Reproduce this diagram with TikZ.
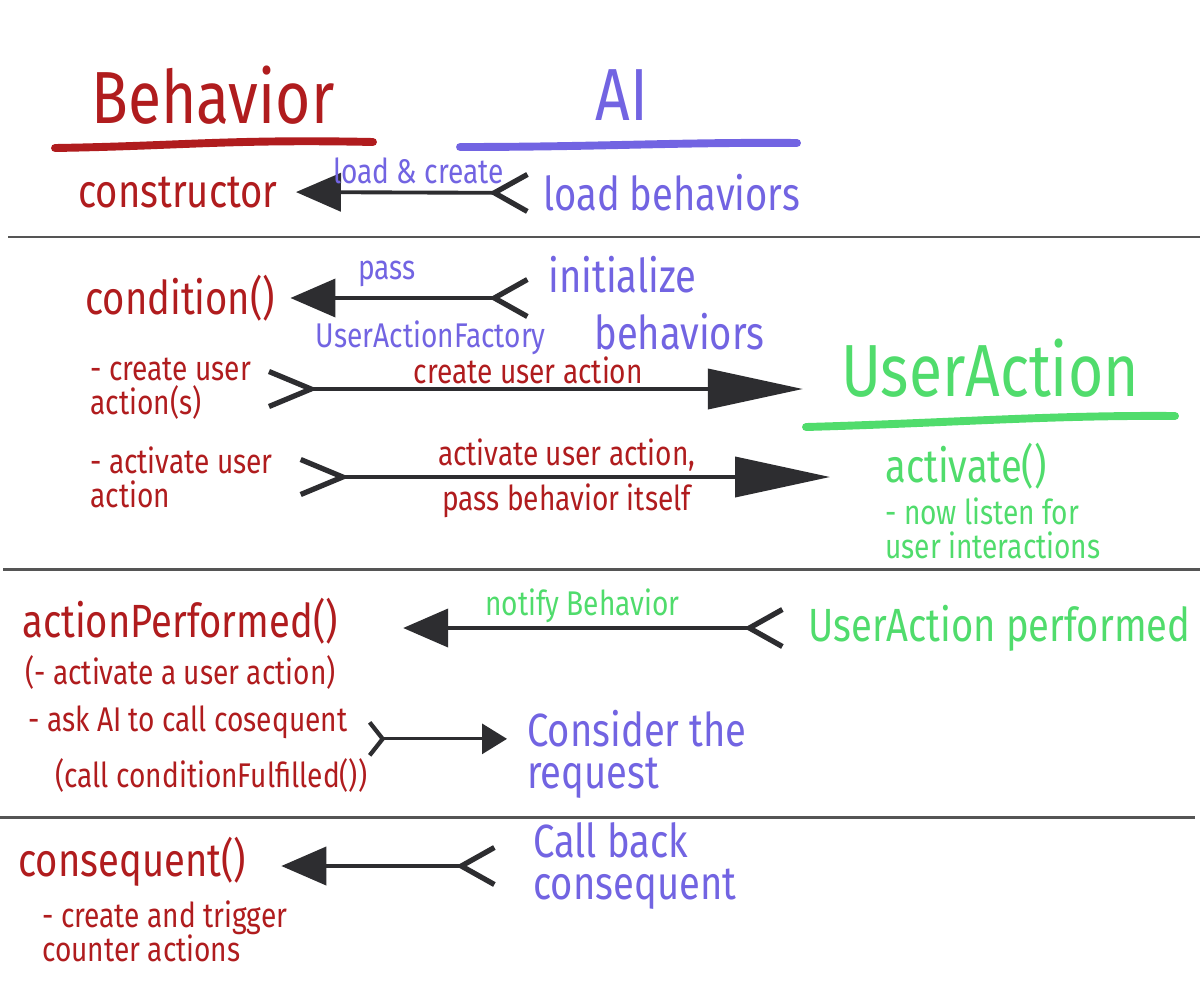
\documentclass[tikz,border=0pt]{standalone}
\usepackage{fontspec}
\setmainfont{Fira Sans}[FakeStretch=0.82]
\usetikzlibrary{arrows.meta}
\definecolor{behred}{RGB}{176,28,30}
\definecolor{aipurple}{RGB}{114,100,226}
\definecolor{uagreen}{RGB}{80,220,108}
\definecolor{ink}{RGB}{45,45,48}
\definecolor{rulegray}{RGB}{85,85,85}
\tikzset{
	title/.style={font=\fontsize{42}{42}\selectfont,inner sep=0pt},
	big/.style={font=\fontsize{26.5}{24}\selectfont,inner sep=0pt,align=left},
	small/.style={font=\fontsize{19.5}{19.5}\selectfont,inner sep=0pt,align=left},
	divider/.style={draw=rulegray,line width=1.7pt},
	stroke/.style={line width=4.5pt,line cap=round},
	flow/.style={draw=ink,line width=2.2pt,{Straight Barb[reversed,length=6.6mm,width=7.4mm,line width=3pt]}-{Triangle[length=9mm,width=7.6mm]}},
	longflow/.style={draw=ink,line width=2.2pt,{Straight Barb[reversed,length=8.4mm,width=7mm,line width=3pt]}-{Triangle[length=19mm,width=8mm]}},
	shortflow/.style={draw=ink,line width=1.8pt,{Straight Barb[reversed,length=2.6mm,width=6.6mm,line width=2.4pt]}-{Triangle[length=5mm,width=6mm]}}
}
\begin{document}
\begin{tikzpicture}[x=0.2mm,y=-0.2mm]
	\useasboundingbox[fill=white] (0,0) rectangle (1200,1000);
	% headings
	\node[title,text=behred] (behT) at (213,95) {Behavior};
	\node[title,text=aipurple] (aiT) at (622,95) {AI};
	\node[title,text=uagreen] (uaT) at (990,368) {UserAction};
	\draw[stroke,behred] (55,148) .. controls (180,146) and (230,139) .. (373,142);
	\draw[stroke,aipurple] (460,147) .. controls (600,147) and (680,142) .. (797,143);
	\draw[stroke,uagreen] (806,427) .. controls (950,423) and (1050,415) .. (1175,416);
	% dividers
	\draw[divider] (8,237) -- (1200,237);
	\draw[divider] (3,569) -- (1200,569);
	\draw[divider] (0,817) -- (1195,817);
	% loading
	\node[big,text=behred,anchor=west] (ctor) at (78,192) {constructor};
	\node[big,text=aipurple,anchor=west] (loadb) at (543,193) {load behaviors};
	\draw[flow,shorten <=2.6mm,shorten >=3.6mm] (loadb.west) -- (ctor.east)
		node[pos=0.47,above=4pt,small,text=aipurple] {load \& create};
	% initialisation
	\node[big,text=behred,anchor=west] (cond) at (85,298) {condition()};
	\node[big,text=aipurple,anchor=west] (init) at (548,275) {initialize};
	\node[big,text=aipurple,anchor=west] (behs) at (594,332) {behaviors};
	\draw[flow,shorten <=3.6mm,shorten >=3mm] (cond.east -| init.west) -- (cond.east)
		node[pos=0.59,above=5pt,small,text=aipurple] {pass}
		node[pos=0.43,below=12pt,small,text=aipurple] {UserActionFactory};
	\node[small,text=behred,anchor=west] (mkua) at (90,389) {- create user\\action(s)};
	\draw[longflow,shorten <=3mm,shorten >=7.6mm] (mkua.east) -- (mkua.east -| uaT.west)
		node[pos=0.47,above=2pt,small,text=behred] {create user action};
	\node[small,text=behred,anchor=west] (actua) at (90,477) {- activate user\\action};
	\node[big,text=uagreen,anchor=west] (act) at (885,466) {activate()};
	\node[small,text=uagreen,anchor=west] (listen) at (885,528) {- now listen for\\user interactions};
	\draw[longflow,shorten <=5mm,shorten >=11mm] (actua.east) -- (actua.east -| act.west)
		node[pos=0.48,above=2pt,small,text=behred] {activate user action,}
		node[pos=0.48,below=3pt,small,text=behred] {pass behavior itself};
	% user action performed
	\node[big,text=behred,anchor=west] (aperf) at (22,621) {actionPerformed()};
	\node[small,text=behred,anchor=west] (aua) at (25,672) {(- activate a user action)};
	\node[small,text=behred,anchor=west] (askai) at (28,722) {- ask AI to call cosequent};
	\node[small,text=behred,anchor=west] (callcf) at (55,775) {(call conditionFulfilled())};
	\node[big,text=uagreen,anchor=west] (uaperf) at (808,628) {UserAction performed};
	\draw[flow,shorten <=4.6mm,shorten >=13mm] (uaperf.west) -- (uaperf.west -| aperf.east)
		node[pos=0.48,above=2pt,small,text=uagreen] {notify Behavior};
	\node[big,text=aipurple,anchor=west] (consider) at (527,754) {Consider the\\request};
	\draw[shortflow,shorten >=4mm] (callcf.east |- askai.south) -- (consider.west |- askai.south);
	% consequent
	\node[big,text=behred,anchor=west] (conseq) at (18,862) {consequent()};
	\node[small,text=behred,anchor=west] (counter) at (42,931) {- create and trigger\\counter actions};
	\node[big,text=aipurple,anchor=west] (callback) at (533,866) {Call back\\consequent};
	\draw[flow,shorten <=7.2mm,shorten >=7mm] (callback.west) -- (callback.west -| conseq.east);
\end{tikzpicture}
\end{document}
